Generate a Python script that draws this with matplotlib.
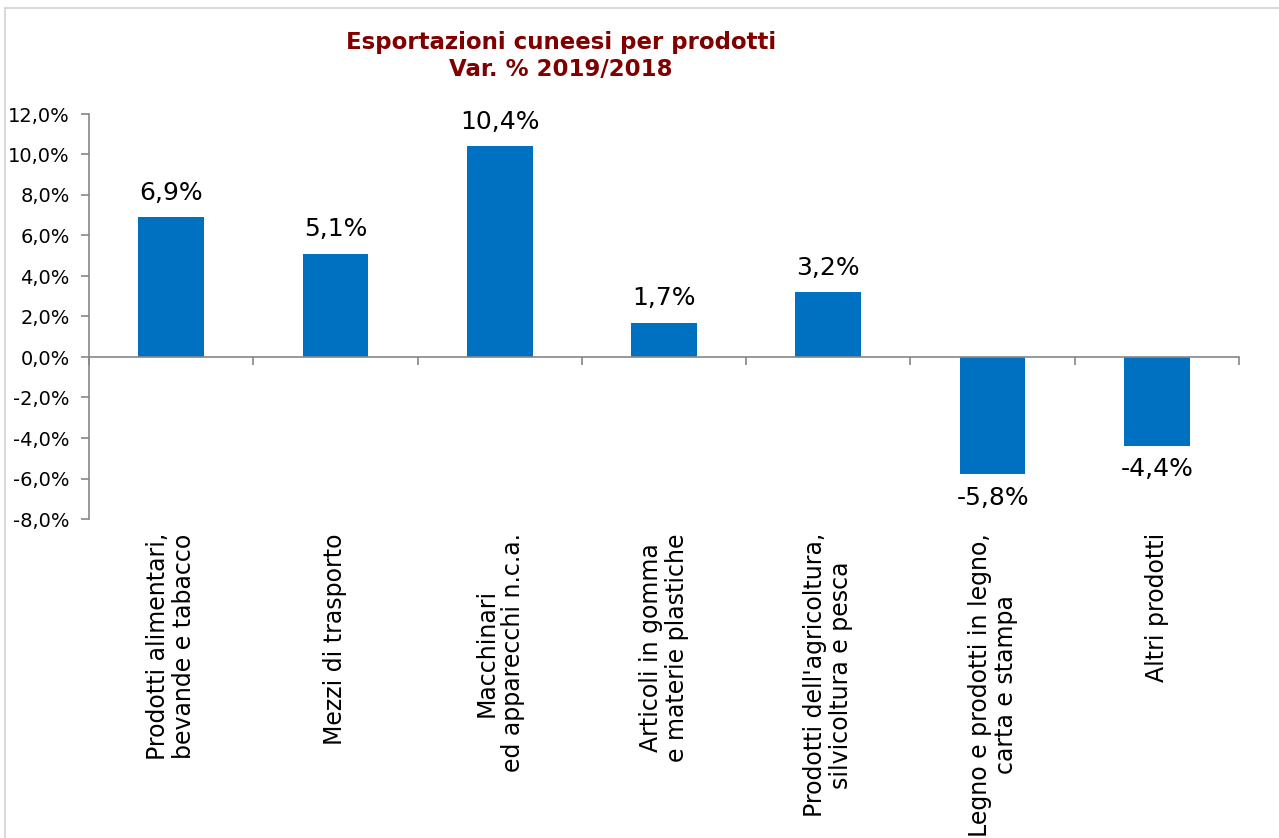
"""
Esportazioni cuneesi per prodotti - Var. % 2019/2018
"""
import numpy as np
import matplotlib
matplotlib.use("Agg")
import matplotlib.pyplot as plt
from matplotlib.patches import Rectangle
from matplotlib.ticker import FuncFormatter

categories = [
    "Prodotti alimentari,\nbevande e tabacco",
    "Mezzi di trasporto",
    "Macchinari\ned apparecchi n.c.a.",
    "Articoli in gomma\ne materie plastiche",
    "Prodotti dell'agricoltura,\nsilvicoltura e pesca",
    "Legno e prodotti in legno,\ncarta e stampa",
    "Altri prodotti",
]
values = [6.9, 5.1, 10.4, 1.7, 3.2, -5.8, -4.4]
y_ticks = [-8, -6, -4, -2, 0, 2, 4, 6, 8, 10, 12]

plt.rcParams['font.family'] = ['DejaVu Sans']

fig = plt.figure(figsize=(12.79, 8.38), dpi=100)
ax = fig.add_axes([89 / 1279, 1 - 519 / 838, 1150 / 1279, 405 / 838])

# light grey frame round the chart area
fig.patches.append(Rectangle((5 / 1279, -0.05), 1.2, 1 - 8 / 838 + 0.05,
                             transform=fig.transFigure, fill=False,
                             edgecolor='#d9d9d9', linewidth=1.5))

x = np.arange(len(categories))
bars = ax.bar(x, values, width=0.4, color='#0070C0', zorder=2)

ax.set_xlim(-0.5, len(categories) - 0.5)
ax.set_ylim(-8, 12)
ax.set_yticks(y_ticks)
ax.yaxis.set_major_formatter(FuncFormatter(lambda v, p: f"{v:.1f}%".replace('.', ',')))
ax.tick_params(axis='y', labelsize=14, length=6, color='#868686', width=1.2, pad=8)

for s in ['top', 'right']:
    ax.spines[s].set_visible(False)
ax.spines['left'].set_color('#868686')
ax.spines['left'].set_linewidth(1.2)
ax.spines['bottom'].set_position(('data', 0))
ax.spines['bottom'].set_color('#868686')
ax.spines['bottom'].set_linewidth(1.2)

# category boundaries as tick marks on the zero line
ax.set_xticks([])
ax.set_xticks(np.arange(-0.5, len(categories)), minor=True)
ax.tick_params(axis='x', which='minor', length=6, color='#868686', width=1.2,
               labelbottom=False)

# category labels below the plot area
for xi, lab in zip(x, categories):
    ax.text(xi, -0.035, lab, transform=ax.get_xaxis_transform(), rotation=90,
            ha='center', va='top', multialignment='center', fontsize=17,
            linespacing=1.1)

# data labels
for b, v in zip(bars, values):
    lab = f"{v:.1f}%".replace('.', ',')
    if v >= 0:
        ax.annotate(lab, (b.get_x() + b.get_width() / 2, v), xytext=(0, 9),
                    textcoords='offset points', ha='center', va='bottom', fontsize=18)
    else:
        ax.annotate(lab, (b.get_x() + b.get_width() / 2, v), xytext=(0, -8),
                    textcoords='offset points', ha='center', va='top', fontsize=18)

fig.text(561 / 1279, 1 - 56 / 838, "Esportazioni cuneesi per prodotti\nVar. % 2019/2018",
         ha='center', va='center', fontsize=16.5, fontweight='bold', color='#800000',
         linespacing=1.2)

fig.savefig('out.png', dpi=100)
